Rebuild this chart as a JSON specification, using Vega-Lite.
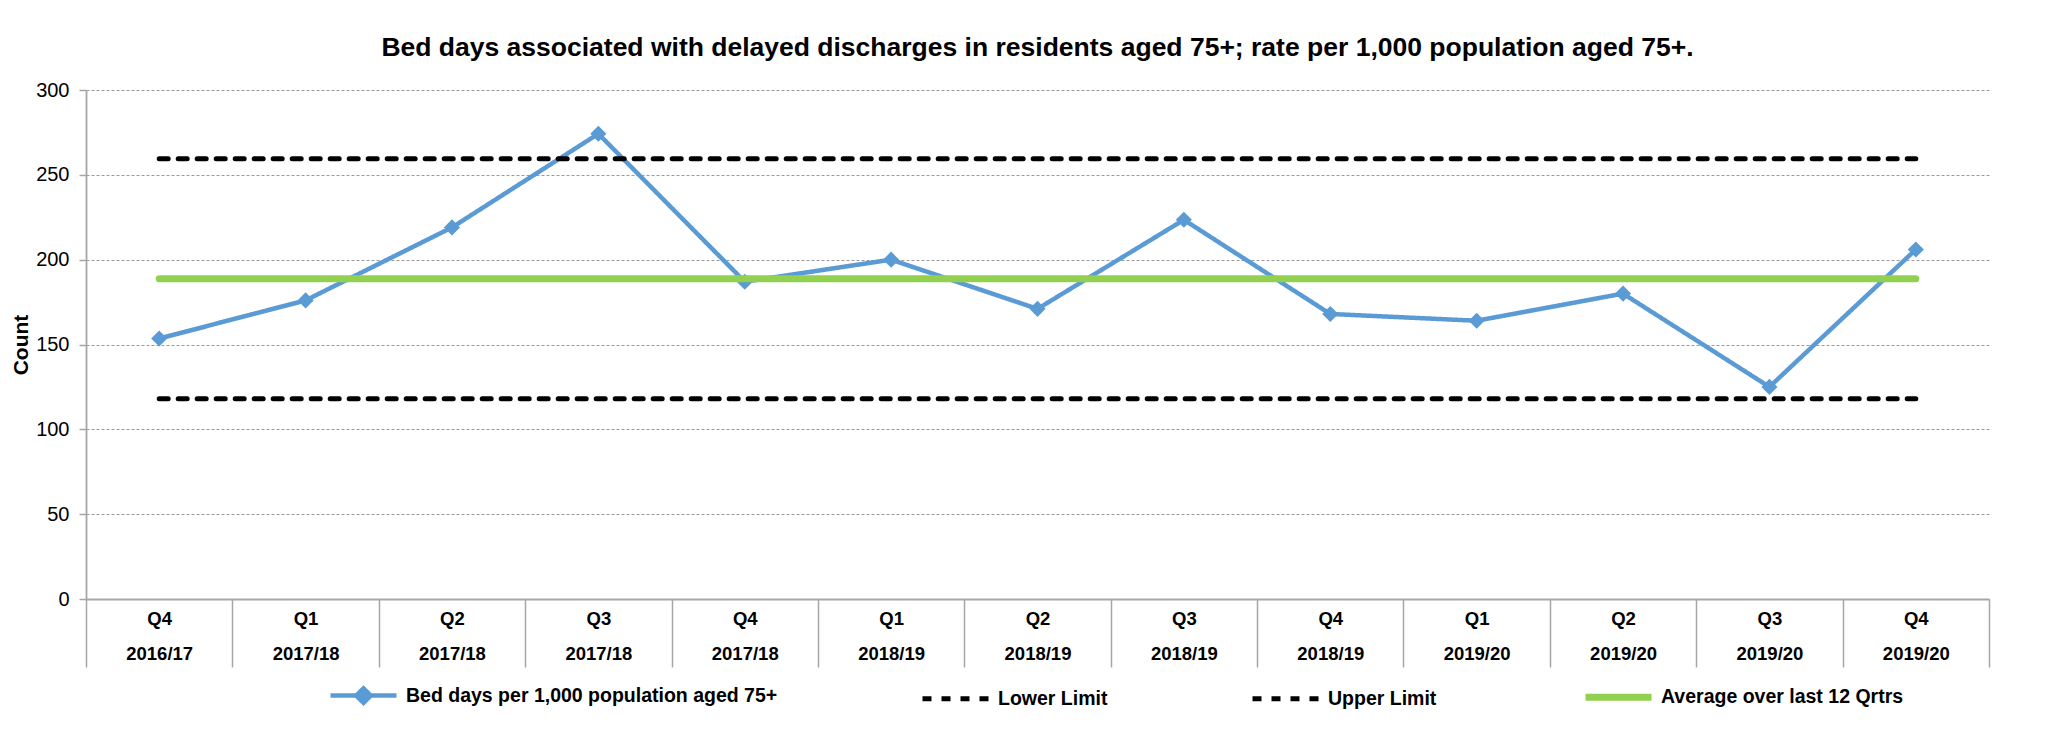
{
  "$schema": "https://vega.github.io/schema/vega-lite/v6.json",
  "width": 1903,
  "height": 509,
  "autosize": {"type": "none"},
  "padding": {"left": 86, "top": 90, "right": 73, "bottom": 131},
  "background": "white",
  "config": {
    "font": "Liberation Sans",
    "view": {"stroke": null}
  },
  "title": {
    "text": "Bed days associated with delayed discharges in residents aged 75+; rate per 1,000 population aged 75+.",
    "anchor": "middle",
    "fontSize": 26.5,
    "fontWeight": "bold",
    "color": "#000000",
    "font": "Liberation Sans",
    "offset": 19
  },
  "data": {
    "values": [
      {"q": "Q4|2016/17", "series": "Bed days per 1,000 population aged 75+", "value": 153.5},
      {"q": "Q1|2017/18", "series": "Bed days per 1,000 population aged 75+", "value": 176},
      {"q": "Q2|2017/18", "series": "Bed days per 1,000 population aged 75+", "value": 219},
      {"q": "Q3|2017/18", "series": "Bed days per 1,000 population aged 75+", "value": 274.2},
      {"q": "Q4|2017/18", "series": "Bed days per 1,000 population aged 75+", "value": 187},
      {"q": "Q1|2018/19", "series": "Bed days per 1,000 population aged 75+", "value": 200},
      {"q": "Q2|2018/19", "series": "Bed days per 1,000 population aged 75+", "value": 171},
      {"q": "Q3|2018/19", "series": "Bed days per 1,000 population aged 75+", "value": 223.5},
      {"q": "Q4|2018/19", "series": "Bed days per 1,000 population aged 75+", "value": 168},
      {"q": "Q1|2019/20", "series": "Bed days per 1,000 population aged 75+", "value": 164},
      {"q": "Q2|2019/20", "series": "Bed days per 1,000 population aged 75+", "value": 180},
      {"q": "Q3|2019/20", "series": "Bed days per 1,000 population aged 75+", "value": 125},
      {"q": "Q4|2019/20", "series": "Bed days per 1,000 population aged 75+", "value": 206},
      {"q": "Q4|2016/17", "series": "Lower Limit", "value": 118},
      {"q": "Q1|2017/18", "series": "Lower Limit", "value": 118},
      {"q": "Q2|2017/18", "series": "Lower Limit", "value": 118},
      {"q": "Q3|2017/18", "series": "Lower Limit", "value": 118},
      {"q": "Q4|2017/18", "series": "Lower Limit", "value": 118},
      {"q": "Q1|2018/19", "series": "Lower Limit", "value": 118},
      {"q": "Q2|2018/19", "series": "Lower Limit", "value": 118},
      {"q": "Q3|2018/19", "series": "Lower Limit", "value": 118},
      {"q": "Q4|2018/19", "series": "Lower Limit", "value": 118},
      {"q": "Q1|2019/20", "series": "Lower Limit", "value": 118},
      {"q": "Q2|2019/20", "series": "Lower Limit", "value": 118},
      {"q": "Q3|2019/20", "series": "Lower Limit", "value": 118},
      {"q": "Q4|2019/20", "series": "Lower Limit", "value": 118},
      {"q": "Q4|2016/17", "series": "Upper Limit", "value": 259.5},
      {"q": "Q1|2017/18", "series": "Upper Limit", "value": 259.5},
      {"q": "Q2|2017/18", "series": "Upper Limit", "value": 259.5},
      {"q": "Q3|2017/18", "series": "Upper Limit", "value": 259.5},
      {"q": "Q4|2017/18", "series": "Upper Limit", "value": 259.5},
      {"q": "Q1|2018/19", "series": "Upper Limit", "value": 259.5},
      {"q": "Q2|2018/19", "series": "Upper Limit", "value": 259.5},
      {"q": "Q3|2018/19", "series": "Upper Limit", "value": 259.5},
      {"q": "Q4|2018/19", "series": "Upper Limit", "value": 259.5},
      {"q": "Q1|2019/20", "series": "Upper Limit", "value": 259.5},
      {"q": "Q2|2019/20", "series": "Upper Limit", "value": 259.5},
      {"q": "Q3|2019/20", "series": "Upper Limit", "value": 259.5},
      {"q": "Q4|2019/20", "series": "Upper Limit", "value": 259.5},
      {"q": "Q4|2016/17", "series": "Average over last 12 Qrtrs", "value": 188.7},
      {"q": "Q1|2017/18", "series": "Average over last 12 Qrtrs", "value": 188.7},
      {"q": "Q2|2017/18", "series": "Average over last 12 Qrtrs", "value": 188.7},
      {"q": "Q3|2017/18", "series": "Average over last 12 Qrtrs", "value": 188.7},
      {"q": "Q4|2017/18", "series": "Average over last 12 Qrtrs", "value": 188.7},
      {"q": "Q1|2018/19", "series": "Average over last 12 Qrtrs", "value": 188.7},
      {"q": "Q2|2018/19", "series": "Average over last 12 Qrtrs", "value": 188.7},
      {"q": "Q3|2018/19", "series": "Average over last 12 Qrtrs", "value": 188.7},
      {"q": "Q4|2018/19", "series": "Average over last 12 Qrtrs", "value": 188.7},
      {"q": "Q1|2019/20", "series": "Average over last 12 Qrtrs", "value": 188.7},
      {"q": "Q2|2019/20", "series": "Average over last 12 Qrtrs", "value": 188.7},
      {"q": "Q3|2019/20", "series": "Average over last 12 Qrtrs", "value": 188.7},
      {"q": "Q4|2019/20", "series": "Average over last 12 Qrtrs", "value": 188.7}
    ]
  },
  "encoding": {
    "x": {
      "field": "q",
      "type": "nominal",
      "sort": null,
      "bandPosition": 0.5,
      "scale": {"type": "band", "paddingInner": 0, "paddingOuter": 0},
      "axis": {
        "title": null,
        "labelAngle": 0,
        "labelExpr": "datum.value ? split(datum.value, '|') : ''",
        "labelFontSize": 18.5,
        "labelFontWeight": "bold",
        "labelColor": "#000000",
        "labelLineHeight": 35,
        "labelBaseline": "top",
        "labelPadding": -58,
        "tickBand": "extent",
        "tickSize": 68,
        "tickColor": "#a6a6a6",
        "tickWidth": 1.5,
        "domainColor": "#a6a6a6",
        "domainWidth": 1.8,
        "grid": false
      }
    },
    "y": {
      "field": "value",
      "type": "quantitative",
      "scale": {"domain": [0, 300], "nice": false},
      "axis": {
        "title": "Count",
        "titleFontSize": 21,
        "titleFontWeight": "bold",
        "titleColor": "#000000",
        "titlePadding": 4,
        "values": [0, 50, 100, 150, 200, 250, 300],
        "labelFontSize": 20,
        "labelColor": "#000000",
        "labelPadding": 10,
        "tickSize": 7,
        "tickColor": "#a6a6a6",
        "tickWidth": 1.5,
        "domainColor": "#a6a6a6",
        "domainWidth": 1.8,
        "grid": true,
        "gridColor": "#9a9a9a",
        "gridDash": [3, 2],
        "gridWidth": 1
      }
    }
  },
  "layer": [
    {
      "transform": [{"filter": "datum.series === 'Bed days per 1,000 population aged 75+'"}],
      "mark": {"type": "line", "strokeCap": "round", "strokeJoin": "round"},
      "encoding": {
        "color": {
          "field": "series",
          "type": "nominal",
          "scale": {
            "domain": ["Bed days per 1,000 population aged 75+", "Lower Limit", "Upper Limit", "Average over last 12 Qrtrs"],
            "range": ["#5B9BD5", "#000000", "#000000", "#92D050"]
          },
          "legend": {
            "title": null,
            "orient": "none",
            "direction": "horizontal",
            "legendX": 241,
            "legendY": 570,
            "columns": 4,
            "columnPadding": 134,
            "labelFontSize": 19.5,
            "labelFontWeight": "bold",
            "labelColor": "#000000",
            "labelOffset": 6,
            "labelLimit": 0,
            "symbolSize": 4356,
            "symbolType": "stroke",
            "encode": {
              "symbols": {
                "update": {
                  "shape": {"signal": "datum.value === 'Bed days per 1,000 population aged 75+' ? 'M-1,0L1,0M-0.22,0L0,-0.22L0.22,0L0,0.22Z' : 'stroke'"},
                  "fill": {"signal": "datum.value === 'Bed days per 1,000 population aged 75+' ? '#5B9BD5' : 'transparent'"}
                }
              }
            }
          }
        },
        "strokeDash": {
          "field": "series",
          "type": "nominal",
          "scale": {
            "domain": ["Bed days per 1,000 population aged 75+", "Lower Limit", "Upper Limit", "Average over last 12 Qrtrs"],
            "range": [[1, 0], [9, 10], [9, 10], [1, 0]]
          },
          "legend": null
        },
        "strokeWidth": {
          "field": "series",
          "type": "nominal",
          "scale": {
            "type": "ordinal",
            "domain": ["Bed days per 1,000 population aged 75+", "Lower Limit", "Upper Limit", "Average over last 12 Qrtrs"],
            "range": [4.5, 5, 5, 7]
          },
          "legend": null
        }
      }
    },
    {
      "transform": [{"filter": "datum.series === 'Bed days per 1,000 population aged 75+'"}],
      "mark": {"type": "point", "shape": "diamond", "filled": true, "color": "#5B9BD5", "size": 260, "opacity": 1}
    },
    {
      "transform": [{"filter": "datum.series !== 'Bed days per 1,000 population aged 75+'"}],
      "mark": {"type": "line", "strokeCap": "round", "strokeJoin": "round"},
      "encoding": {
        "color": {
          "field": "series",
          "type": "nominal",
          "scale": {
            "domain": ["Bed days per 1,000 population aged 75+", "Lower Limit", "Upper Limit", "Average over last 12 Qrtrs"],
            "range": ["#5B9BD5", "#000000", "#000000", "#92D050"]
          }
        },
        "strokeDash": {
          "field": "series",
          "type": "nominal",
          "scale": {
            "domain": ["Bed days per 1,000 population aged 75+", "Lower Limit", "Upper Limit", "Average over last 12 Qrtrs"],
            "range": [[1, 0], [9, 10], [9, 10], [1, 0]]
          },
          "legend": null
        },
        "strokeWidth": {
          "field": "series",
          "type": "nominal",
          "scale": {
            "type": "ordinal",
            "domain": ["Bed days per 1,000 population aged 75+", "Lower Limit", "Upper Limit", "Average over last 12 Qrtrs"],
            "range": [4.5, 5, 5, 7]
          },
          "legend": null
        }
      }
    }
  ]
}
